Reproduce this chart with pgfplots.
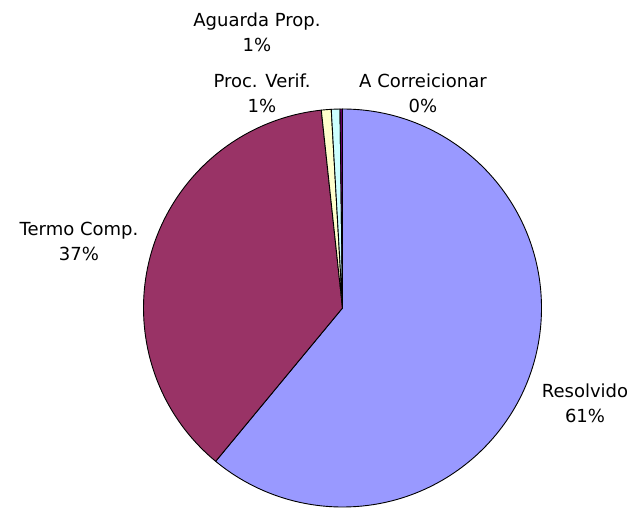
\documentclass[border=0pt]{standalone}
\usepackage{pgfplots}
\usepackage{pgfplotstable}
\pgfplotsset{compat=1.18}
\usepackage{fontspec}
\setmainfont{DejaVu Sans}
\definecolor{cResolvido}{HTML}{9999FF}
\definecolor{cTermo}{HTML}{993366}
\definecolor{cProc}{HTML}{FFFFCC}
\definecolor{cAguarda}{HTML}{CCFFFF}
\definecolor{cCorreicionar}{HTML}{660066}

\pgfplotstableread[col sep=comma]{
label,value,color
Resolvido,61.0,cResolvido
Termo Comp.,37.3,cTermo
Proc. Verif.,0.8,cProc
Aguarda Prop.,0.7,cAguarda
A Correicionar,0.2,cCorreicionar
}\piedata

\begin{document}
\begin{tikzpicture}
\begin{axis}[
  width=631pt, height=508pt, scale only axis,
  xmin=0, xmax=631, ymin=0, ymax=508,
  hide axis, clip=false,
]
\path (rel axis cs:0,0) rectangle (rel axis cs:1,1);
\pgfplotstablegetrowsof{\piedata}
\pgfmathtruncatemacro\N{\pgfplotsretval-1}
\def\cum{0}
\pgfplotsforeachungrouped \i in {0,...,\N}{%
  \pgfplotstablegetelem{\i}{value}\of\piedata \let\v\pgfplotsretval
  \pgfplotstablegetelem{\i}{color}\of\piedata \let\c\pgfplotsretval
  \pgfmathsetmacro\a{90-3.6*\cum}%
  \pgfmathsetmacro\b{90-3.6*(\cum+\v)}%
  \edef\temp{\noexpand\filldraw[fill=\c, draw=black, line width=0.9pt, line join=round] (axis cs:342.5,200) -- ++(\a:199pt) arc[start angle=\a, end angle=\b, radius=199pt] -- cycle;}%
  \temp
  \pgfmathsetmacro\cum{\cum+\v}%
}
\tikzset{lbl/.style={align=center, font=\fontsize{18}{25}\selectfont, inner sep=0pt}}
\node[lbl] at (axis cs:257,476) {Aguarda Prop.\\1\%};
\node[lbl] at (axis cs:262,415) {Proc. Verif.\\1\%};
\node[lbl] at (axis cs:423,415) {A Correicionar\\0\%};
\node[lbl] at (axis cs:79,267) {Termo Comp.\\37\%};
\node[lbl] at (axis cs:585,105) {Resolvido\\61\%};
\end{axis}
\end{tikzpicture}
\end{document}
